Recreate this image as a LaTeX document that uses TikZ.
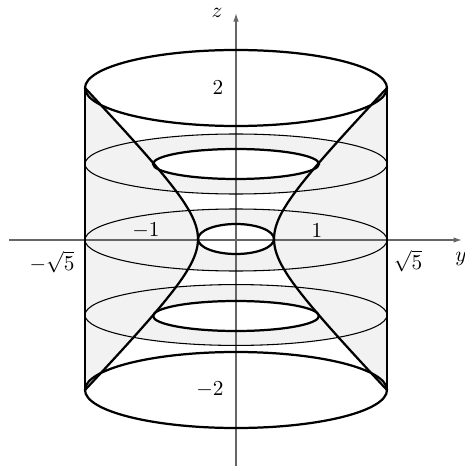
\documentclass[tikz,border=0pt]{standalone}
\usetikzlibrary{arrows.meta}
\begin{document}
\begin{tikzpicture}[x=0.47pt,y=-0.47pt,
  thickline/.style={line width=1.05pt, black},
  thinline/.style={line width=0.5pt, black},
  axisline/.style={line width=0.65pt, black!60, -{Latex[length=4pt,width=2.6pt]}},
  lbl/.style={inner sep=0pt, font=\fontsize{10}{12}\selectfont},
  shade/.style={fill=gray!10}]
\useasboundingbox (0,0) rectangle (464,466);
% fills
\fill[shade] (85,88) rectangle (387,390);
\fill[white] plot[domain=2:-2, samples=81] ({236-10*sqrt(14.44+53.39*\x*\x)},{239-75.5*\x})
  -- plot[domain=-2:2, samples=81] ({236+10*sqrt(14.44+53.39*\x*\x)},{239-75.5*\x}) -- cycle;
\fill[shade] (236,164) ellipse [x radius=70.97pt, y radius=14.1pt];
\fill[shade] (236,240) ellipse [x radius=70.97pt, y radius=14.57pt];
\fill[shade] (236,315) ellipse [x radius=70.97pt, y radius=14.3pt];
\fill[white] (236,164) ellipse [x radius=39.01pt, y radius=7.05pt];
\fill[white] (236,239) ellipse [x radius=17.86pt, y radius=7.05pt];
\fill[white] (236,316) ellipse [x radius=39.01pt, y radius=7.05pt];
\fill[white] (236,88) ellipse [x radius=70.97pt, y radius=17.86pt];
\fill[white] (236,390) ellipse [x radius=70.97pt, y radius=17.86pt];
% axes
\coordinate (hL) at (9,240);
\coordinate (hR) at (462,240);
\coordinate (vB) at (236,466);
\coordinate (vT) at (236,13);
\draw[axisline] (hL) -- (hR);
\draw[axisline] (vB) -- (vT);
% rings
\draw[thinline] (236,164) ellipse [x radius=70.97pt, y radius=14.1pt];
\draw[thinline] (236,240) ellipse [x radius=70.97pt, y radius=14.57pt];
\draw[thinline] (236,315) ellipse [x radius=70.97pt, y radius=14.3pt];
\draw[thickline] (236,164) ellipse [x radius=39.01pt, y radius=7.05pt];
\draw[thickline] (236,239) ellipse [x radius=17.86pt, y radius=7.05pt];
\draw[thickline] (236,316) ellipse [x radius=39.01pt, y radius=7.05pt];
% cylinder
\coordinate (cTL) at (85,88);
\coordinate (cBL) at (85,390);
\coordinate (cTR) at (387,88);
\coordinate (cBR) at (387,390);
\draw[thickline] (cTL) -- (cBL);
\draw[thickline] (cTR) -- (cBR);
\draw[thickline] (236,88) ellipse [x radius=70.97pt, y radius=17.86pt];
\draw[thickline] (236,390) ellipse [x radius=70.97pt, y radius=17.86pt];
% hyperboloid
\draw[thickline] plot[domain=2:-2, samples=81, smooth] ({236-10*sqrt(14.44+53.39*\x*\x)},{239-75.5*\x});
\draw[thickline] plot[domain=2:-2, samples=81, smooth] ({236+10*sqrt(14.44+53.39*\x*\x)},{239-75.5*\x});
% labels
\node[lbl] (lz) at (217,13) {$z$};
\node[lbl] (ly) at (461,259) {$y$};
\node[lbl] (l2) at (218,88) {$2$};
\node[lbl] (lm2) at (210,390) {$-2$};
\node[lbl] (lm1) at (146,231) {$-1$};
\node[lbl] (l1) at (317,231) {$1$};
\node[lbl] (lms5) at (52,262) {$-\sqrt{5}$};
\node[lbl] (ls5) at (408,261) {$\sqrt{5}$};
\end{tikzpicture}
\end{document}
